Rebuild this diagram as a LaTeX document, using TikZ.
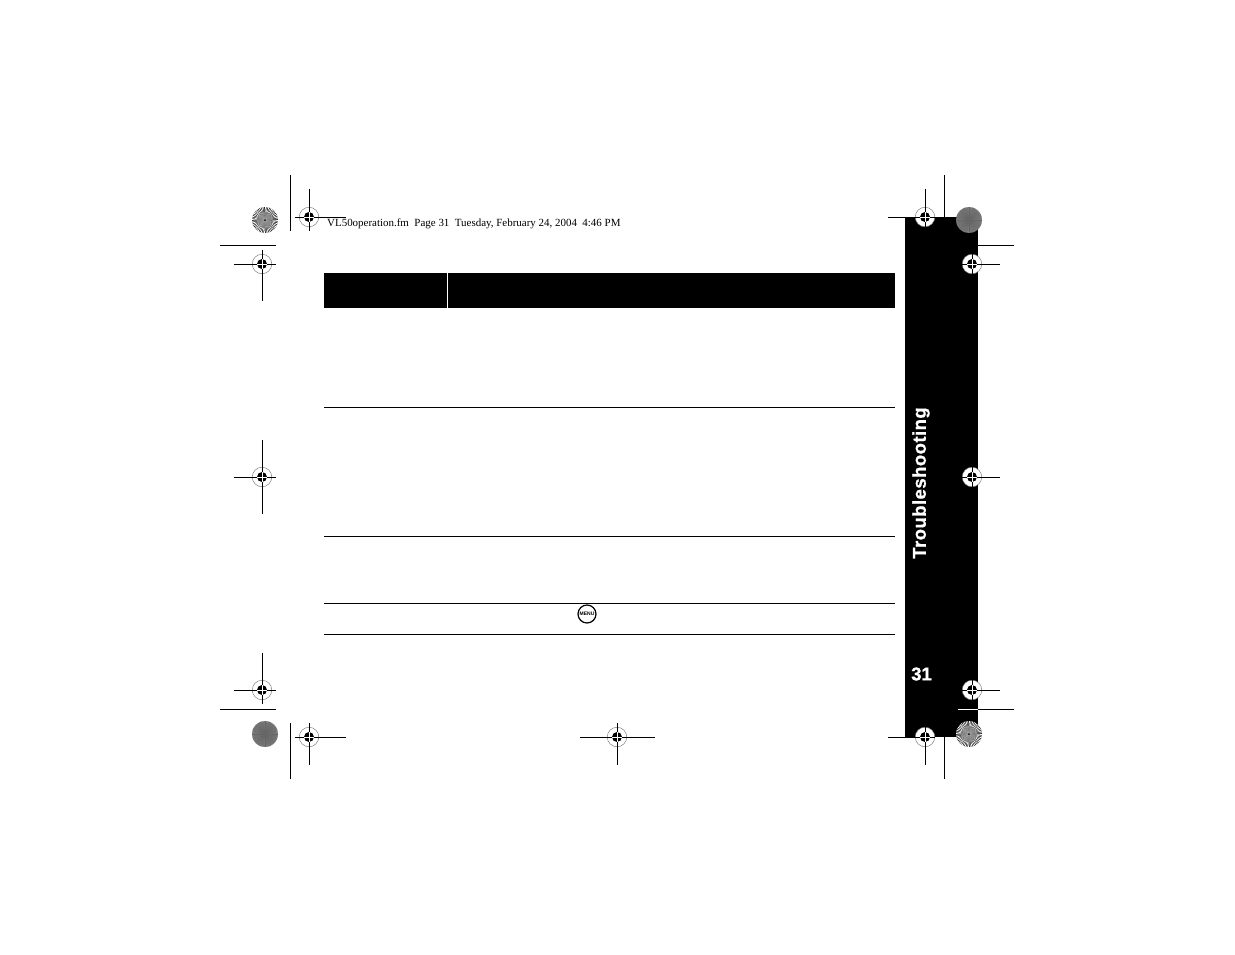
\documentclass[tikz,border=0pt]{standalone}
\usepackage{fontspec}
\setmainfont{Liberation Serif}
\setsansfont{Liberation Sans}
\newcommand{\regMark}[7]{%%
  %% The ring, the hair lines, then the target on top of them.
  \node[ringStyle,fill=#3] at (#1,#2) {};
  \draw[hairStyle] (#1-#4,#2) -- (#1+#5,#2);
  \draw[hairStyle] (#1,#2-#6) -- (#1,#2+#7);
  \fill[black] (#1,#2) circle (5);
  \draw[white,line width=0.6pt] (#1-5,#2) -- (#1+5,#2);
  \draw[white,line width=0.6pt] (#1,#2-5) -- (#1,#2+5);
}
\newcommand{\spokeDisc}[3]{%%
  \fill[#3] (#1,#2) circle (13);
  \foreach \ang in {0,7.5,...,352.5} {
    \fill[white] (#1,#2) -- ++(\ang:13) arc[start angle=\ang,end angle=\ang+3.75,radius=13] -- cycle;
  }
  \fill[gray,opacity=0.6] (#1,#2) circle (8);
  \fill[black] (#1,#2) circle (1);
}
\newcommand{\denseDisc}[3]{%%
  \fill[#3] (#1,#2) circle (13);
  \foreach \ang in {0,5,...,355} {
    \draw[black!60,line width=0.35pt] (#1,#2) -- ++(\ang:13);
  }
}
\begin{document}
\begin{tikzpicture}[%%
  x=1pt,y=-1pt,%%
  hairStyle/.style={black,line width=0.9pt},%%
  whiteStyle/.style={white,line width=0.9pt},%%
  ruleStyle/.style={black,line width=0.8pt},%%
  ringStyle/.style={draw=gray,circle,line width=0.5pt,inner sep=0pt,minimum size=19.5pt},%%
  blockStyle/.style={fill=black,draw=none},%%
  tabStyle/.style={white,inner sep=0pt,font=\sffamily\bfseries\fontsize{18.5}{20}\selectfont}%%
]
\useasboundingbox (0,0) rectangle (1235,954);
%% The black tab at the right.
\fill[blockStyle] (905,217) rectangle (978,737);
%% The table head and its rules.
\fill[blockStyle] (324,273) rectangle (895,308);
\draw[whiteStyle] (447.5,273) -- (447.5,308);
\foreach \yrule in {407,536.5,603,634} {
  \draw[ruleStyle] (324,\yrule) -- (895,\yrule);
}
%% The crop lines.
\draw[hairStyle] (290.5,175) -- (290.5,231);
\draw[hairStyle] (220,245) -- (276,245);
\draw[hairStyle] (220,709) -- (276,709);
\draw[hairStyle] (290.5,723) -- (290.5,779);
\draw[hairStyle] (944,175) -- (944,217);
\draw[hairStyle] (944,737) -- (944,779);
\draw[hairStyle] (978,245) -- (1014,245);
\draw[whiteStyle] (958,709) -- (978,709);
\draw[hairStyle] (978,709) -- (1014,709);
%% The targets, left side then bottom then right side.
\regMark{309}{217}{white}{14}{37}{28}{14}
\regMark{262}{264}{white}{28}{14}{14}{37}
\regMark{262}{477}{white}{28}{14}{37}{37}
\regMark{262}{690}{white}{28}{14}{37}{14}
\regMark{309}{737}{white}{14}{37}{14}{28}
\regMark{617}{737}{white}{37}{38}{14}{28}
\regMark{925}{217}{white}{37}{10}{28}{10}
\regMark{972}{264}{white}{10}{28}{10}{10}
\regMark{972}{477}{white}{10}{28}{10}{10}
\regMark{972}{690}{white}{10}{28}{10}{10}
\regMark{925}{737}{white}{37}{10}{10}{28}
%% The colour discs in the corners.
\spokeDisc{265}{220}{black}
\spokeDisc{969}{734}{black}
\denseDisc{969}{220}{gray}
\denseDisc{265}{734}{gray}
%% The texts.
\node[anchor=base west,inner sep=0pt,font=\fontsize{10.95}{13}\selectfont] (slugLine) at (327,226.5)
  {VL50operation.fm\ \ Page 31\ \ Tuesday, February 24, 2004\ \ 4:46 PM};
\node[tabStyle,rotate=90] (tabTitle) at (921,483) {\addfontfeature{LetterSpace=2.5,FakeBold=1}Troubleshooting};
\node[tabStyle] (pageNum) at (921.5,674) {\addfontfeature{FakeBold=1}31};
%% The menu key.
\node[draw=black,circle,line width=1.2pt,inner sep=0pt,minimum size=18pt,font=\sffamily\bfseries\fontsize{5}{5}\selectfont] (menuKey) at (587,614) {MENU};
\end{tikzpicture}
\end{document}
